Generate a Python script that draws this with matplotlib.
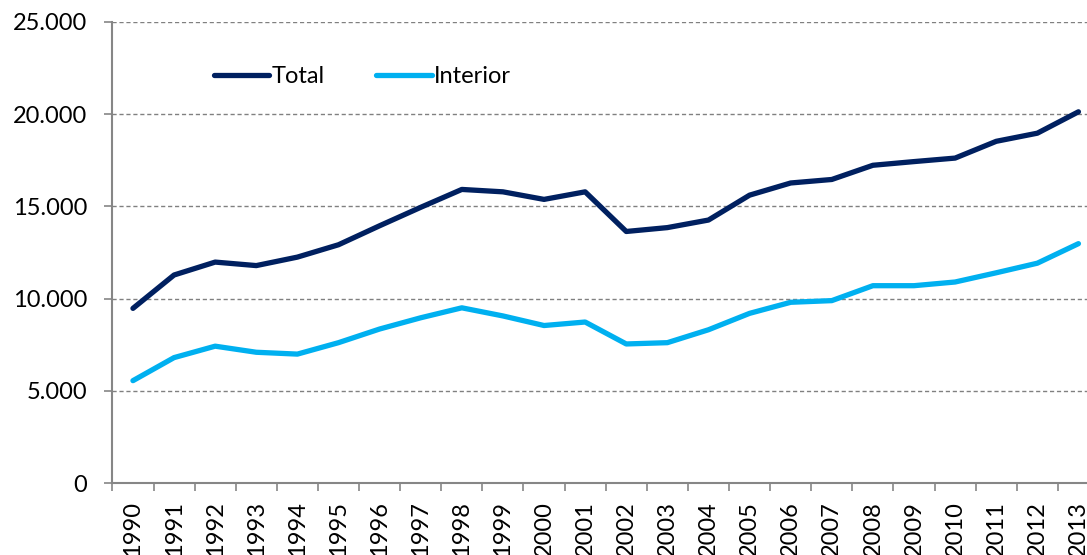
import matplotlib.pyplot as plt
import numpy as np
from matplotlib.ticker import FuncFormatter, FixedLocator

# values
years = [str(y) for y in range(1990, 2014)]
total = [9470, 11280, 11980, 11790, 12250, 12920, 13950, 14950, 15920, 15790, 15380, 15790,
         13640, 13850, 14260, 15610, 16270, 16460, 17230, 17430, 17620, 18530, 18970, 20130]
interior = [5550, 6800, 7420, 7090, 6990, 7610, 8350, 8960, 9500, 9060, 8540, 8730,
            7540, 7610, 8310, 9200, 9800, 9890, 10700, 10700, 10900, 11400, 11920, 12980]

plt.rcParams['font.family'] = ['Lato', 'DejaVu Sans']

fig = plt.figure(figsize=(10.87, 5.55), dpi=100)
# plot area runs a bit past the right edge, like the cropped original
ax = fig.add_axes([112.4 / 1087, 1 - 483 / 555, (1099 - 112.4) / 1087, (483 - 22) / 555])

x = np.arange(len(years))
ax.plot(x, total, color='#002060', lw=3.8, label='Total', solid_capstyle='round', solid_joinstyle='round')
ax.plot(x, interior, color='#00B0F0', lw=3.8, label='Interior', solid_capstyle='round', solid_joinstyle='round')

ax.set_xlim(-0.5, len(years) - 0.5)
ax.set_ylim(0, 25000)
ax.set_yticks(range(0, 25001, 5000))
ax.yaxis.set_major_formatter(FuncFormatter(lambda v, p: f"{int(v):,}".replace(',', '.')))
ax.yaxis.grid(True, color='#808080', ls=(0, (3, 2)), lw=1)
ax.set_axisbelow(True)

ax.set_xticks(x)
ax.set_xticklabels(years, rotation=90)
ax.xaxis.set_minor_locator(FixedLocator(np.arange(-0.5, len(years), 1)))
ax.tick_params(axis='x', which='major', length=0, pad=13, labelsize=17)
ax.tick_params(axis='x', which='minor', length=6, width=1.2, color='#868686')
ax.tick_params(axis='y', length=6, width=1.2, color='#868686', pad=12, labelsize=17)

for s in ['top', 'right']:
    ax.spines[s].set_visible(False)
for s in ['left', 'bottom']:
    ax.spines[s].set_color('#868686')
    ax.spines[s].set_linewidth(1.5)

ax.legend(loc='upper left', bbox_to_anchor=(0.081, 0.95), ncol=2, frameon=False,
          fontsize=17, handlelength=2.35, handletextpad=0.1, columnspacing=2.2)

fig.savefig('out.png', dpi=100)
